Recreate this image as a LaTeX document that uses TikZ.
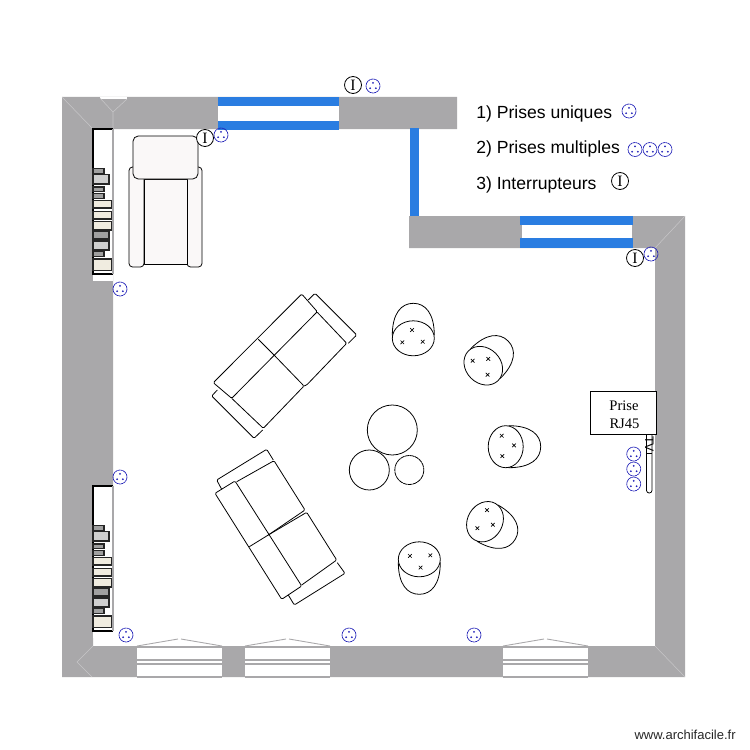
\documentclass[tikz,border=0pt]{standalone}
\usepackage{fontspec}
\setmainfont{Liberation Sans}
\newfontfamily\boxfont{Liberation Serif}
\definecolor{wallgray}{HTML}{A9A8AA}
\definecolor{winblue}{HTML}{2A7DE1}
\definecolor{sockblue}{HTML}{2222B8}
\definecolor{seatwhite}{HTML}{FAF8F8}
\definecolor{bookcream}{HTML}{F0ECE0}
\definecolor{booklight}{HTML}{CFCFCF}
\definecolor{bookgray}{HTML}{A0A0A0}
\tikzset{
    wall/.style={fill=wallgray,draw=none},
    seam/.style={draw=white!35!wallgray,line width=0.3pt},
    winbar/.style={fill=winblue,draw=none},
    furn/.style={draw=black,line width=0.45pt,line join=round},
    sofa/.style={furn,rounded corners=0.7pt},
    book/.style={draw=black!85,line width=0.7pt},
    legend/.style={font=\fontsize{10}{12}\selectfont,anchor=west,inner sep=0pt},
    socket/.pic={
        \draw[sockblue,line width=0.4pt,dash pattern=on 1.2pt off 0.25pt] (0,0) circle (7);
        \fill[sockblue] (0,-3.2) circle (1) (-2.9,2.2) circle (1) (2.9,2.2) circle (1);
    },
    switch/.pic={
        \draw[black,fill=white,line width=0.45pt] (0,0) circle (8.5);
        \node[font=\fontsize{9}{10}\selectfont\boxfont,inner sep=0pt] (-txt) at (0,0) {I};
    },
    cross/.pic={
        \draw[black,line width=0.4pt] (-1.8,-1.8)--(1.8,1.8) (-1.8,1.8)--(1.8,-1.8);
    },
    stool/.pic={
        \draw[furn] (-21,-3) .. controls (-21,-25) and (-12,-35) .. (0,-35) .. controls (12,-35) and (21,-25) .. (21,-3);
        \draw[furn] (0,0) ellipse (21 and 17.5);
        \pic at (-1.3,-8.3) {cross};
        \pic at (-11,4) {cross};
        \pic at (9.4,3.4) {cross};
    }
}
\newcommand{\bookshelf}[1]{
    \begin{scope}[yshift=-#1*0.02cm]
        \fill[white] (93,129) rectangle (113,281);
        \draw[black,line width=0.8pt] (113,129)--(93,129)--(93,274)--(113,274);
        \draw[wallgray,line width=0.6pt] (113,129)--(113,274);
        \draw[book,fill=bookgray] (93,168.5) rectangle (104,173.5);
        \draw[book,fill=booklight] (93,174.5) rectangle (109,184);
        \draw[book,fill=bookgray] (93,187) rectangle (104,191.5);
        \draw[book,fill=bookgray] (93,193.5) rectangle (104,198.5);
        \draw[book,fill=bookcream] (93,200.5) rectangle (111.5,208);
        \draw[book,fill=bookcream] (93,211.5) rectangle (111.5,219);
        \draw[book,fill=bookcream] (93,221.5) rectangle (111.5,230);
        \draw[book,fill=bookgray] (93,231.5) rectangle (109,239);
        \draw[book,fill=booklight] (93,241) rectangle (109,250);
        \draw[book,fill=bookgray] (93,251.5) rectangle (104,256.5);
        \draw[book,fill=bookcream] (93,259) rectangle (111.5,270.5);
    \end{scope}
}
\newcommand{\baywindow}[1]{
    \fill[white] (#1,648) rectangle ++(85,29);
    \draw[wallgray,line width=0.6pt] (#1,660)--++(85,0) (#1,664)--++(85,0) (#1,677)--++(85,0);
    \draw[wallgray,line width=0.5pt] (#1,646)--++(41,-7) ++(3,0)--++(41,7);
}

\begin{document}
\begin{tikzpicture}[x=0.02cm,y=-0.02cm]
    \useasboundingbox (0,0) rectangle (750,750);

    % walls
    \fill[wall] (62,97)--(457,97)--(457,129)--(113,129)--(113,486)--(93,486)--(93,646)--(655,646)--(655,248)--(409,248)--(409,216)--(685,216)--(685,677)--(62,677)--cycle;
    \fill[white] (100,97) rectangle (127,99);
    \draw[seam] (62,97)--(93,129) (100,98)--(113,112)--(127,99) (113,112)--(113,129);
    \draw[seam] (685,216)--(655,248) (655,646)--(685,677) (93,646)--(77,662)--(92,677);

    % windows
    \fill[white] (218,106) rectangle (339,121);
    \fill[winbar] (218,97) rectangle (339,106);
    \fill[winbar] (218,121) rectangle (339,130);
    \fill[winbar] (410,128) rectangle (419,216);
    \fill[white] (522,225) rectangle (632,238);
    \fill[winbar] (520,216) rectangle (633,225);
    \fill[winbar] (520,238) rectangle (633,248);
    \baywindow{137}
    \baywindow{245}
    \baywindow{503}

    % shelves
    \bookshelf{0}
    \bookshelf{357}

    % armchair
    \draw[furn,fill=seatwhite,rounded corners=2pt] (129,167) rectangle (144,267);
    \draw[furn,fill=seatwhite,rounded corners=2pt] (187,167) rectangle (202,267);
    \draw[furn,fill=seatwhite] (144,179) rectangle (187,264);
    \draw[furn,fill=seatwhite,rounded corners=3pt] (133,136) rectangle (198,179);

    % upper sofa
    \draw[sofa] (308.3,300)--(315,293.3)--(356.7,335)--(348.3,343.3);
    \draw[sofa] (217.3,390)--(211.7,396)--(254,438.3)--(262.7,430);
    \draw[sofa] (213.3,382.7)--(301.7,294)--(317.3,311.7)--(231.7,398.3)--cycle;
    \draw[sofa] (258.3,339.3)--(274,355);
    \draw[sofa] (231.7,398.3)--(263.3,428.3)--(304,386)--(274,355);
    \draw[sofa] (317.3,312.3)--(346.7,343.3)--(306.7,385)--(304,386);

    % lower sofa
    \draw[sofa] (221.7,489.3)--(216.7,480)--(266.7,449.3)--(273.3,460);
    \draw[sofa] (337.3,562.7)--(345,573.3)--(294.3,605)--(288.3,595);
    \draw[sofa] (215,493.3)--(235,481)--(301.7,586)--(281.7,599.3)--cycle;
    \draw[sofa] (249.3,546.7)--(268.3,535);
    \draw[sofa] (236.7,481.7)--(274,460.7)--(305,510)--(268.3,535);
    \draw[sofa] (268.3,535)--(306.7,512.3)--(336.7,560)--(301.7,585);

    % tables
    \draw[furn] (392.3,430) circle (25);
    \draw[furn] (369.3,470) circle (20);
    \draw[furn,dash pattern=on 2.5pt off 0.3pt] (409.3,470) circle (14.5);

    % stools
    \pic at (413.3,338.3) {stool};
    \pic[rotate=-45] at (483.3,365.7) {stool};
    \pic[rotate=-90] at (505.7,446.7) {stool};
    \pic[rotate=-120] at (485,521.7) {stool};
    \pic[rotate=180] at (419.3,559.3) {stool};

    % tv
    \draw[furn,rounded corners=1.5pt] (646.5,434)--(646.5,493)--(652,493)--(652,434);
    \draw[furn] (646.5,453)--(652,453);
    \node[rotate=-90,font=\fontsize{7}{8}\selectfont,inner sep=0pt] (tvlabel) at (649.3,444) {TV};

    % rj45 box
    \node[draw=black,fill=white,line width=0.5pt,minimum width=66*0.02cm,minimum height=43*0.02cm,inner sep=0pt,font=\fontsize{8.3}{10}\selectfont\boxfont] (rjbox) at (623.5,412.8) {};
    \node[font=\fontsize{8.3}{10}\selectfont\boxfont,inner sep=0pt] (rjtop) at (624,406) {Prise};
    \node[font=\fontsize{8.3}{10}\selectfont\boxfont,inner sep=0pt] (rjbot) at (624.5,424) {RJ45};

    % sockets
    \foreach \px/\py in {373/86,221/135,120/289,120/477,126/635,349/635,474/635,651/254,633.7/454,633.7/469,633.7/484,629/111,635/149.5,650/149.5,665/149.5}
        \pic at (\px,\py) {socket};

    % switches
    \foreach \px/\py/\nm in {353/85/swtop,205/138/swchair,635/258/swright,620/181/swkey}
        \pic (\nm) at (\px,\py) {switch};

    % legend
    \node[legend] (keyone) at (476,113.5) {1) Prises uniques};
    \node[legend] (keytwo) at (476,148.5) {2) Prises multiples};
    \node[legend] (keythree) at (476,184.5) {3) Interrupteurs};

    % credit
    \node[font=\fontsize{7.4}{9}\selectfont,anchor=east,inner sep=0pt,text=black!85] (credit) at (736,735) {www.archifacile.fr};
\end{tikzpicture}
\end{document}
